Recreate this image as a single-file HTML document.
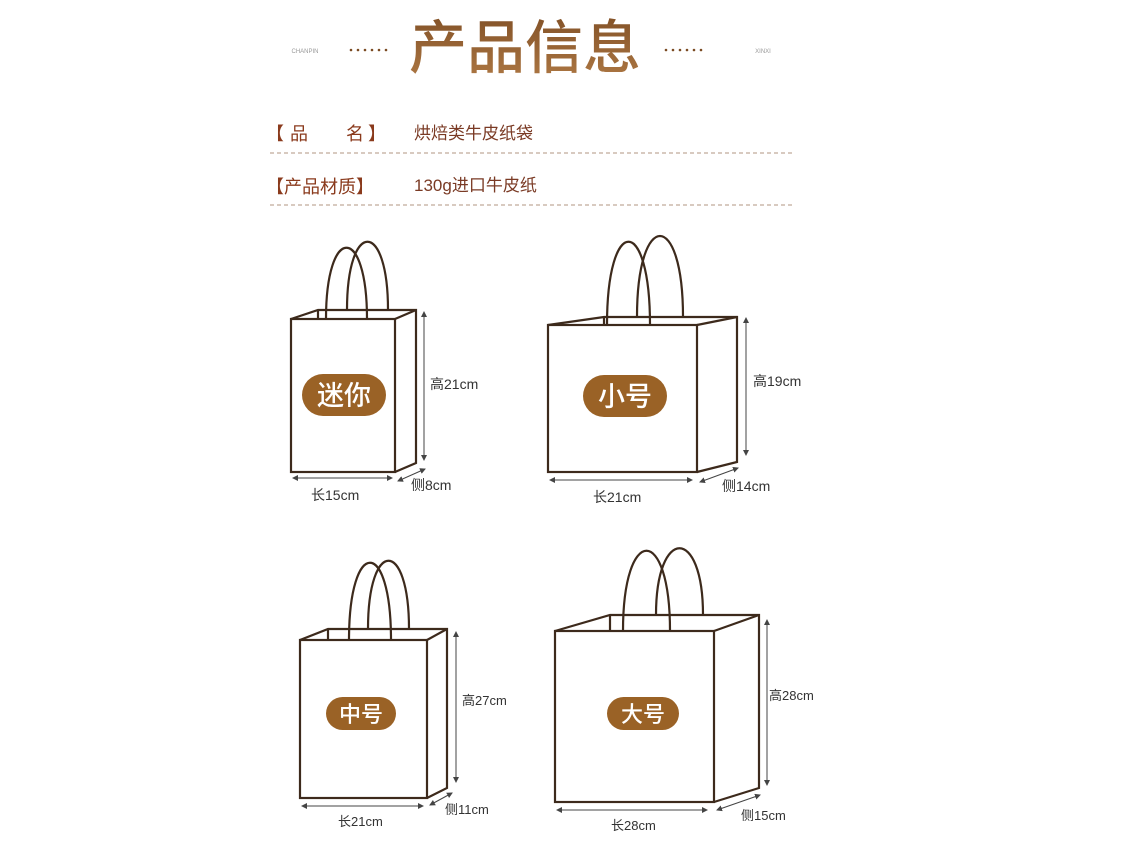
<!DOCTYPE html>
<html><head><meta charset="utf-8"><style>
html,body{margin:0;padding:0;background:#fff;}
body{width:1131px;height:855px;overflow:hidden;position:relative;font-family:"Liberation Sans","Noto Sans CJK SC",sans-serif;}
svg{position:absolute;left:0;top:0;}
</style></head><body>
<svg width="1131" height="855" viewBox="0 0 1131 855" xmlns="http://www.w3.org/2000/svg">
<defs>
<linearGradient id="tg" x1="0" y1="0" x2="0" y2="1"><stop offset="0" stop-color="#7a4a22"/><stop offset="1" stop-color="#b07a45"/></linearGradient>
<marker id="ar" markerWidth="6" markerHeight="6" refX="5" refY="3" orient="auto-start-reverse"><path d="M0,0 L6,3 L0,6 z" fill="#444"/></marker>
</defs>
<text x="525" y="68" font-size="58" font-weight="500" fill="url(#tg)" text-anchor="middle" font-family="Noto Sans CJK SC,sans-serif">产品信息</text>
<text x="305" y="53" font-size="6" fill="#999" text-anchor="middle">CHANPIN</text>
<text x="763" y="53" font-size="6" fill="#999" text-anchor="middle">XINXI</text>
<g fill="#7a4a22">
<circle cx="351" cy="50" r="1.3"/><circle cx="358" cy="50" r="1.3"/><circle cx="365" cy="50" r="1.3"/><circle cx="372" cy="50" r="1.3"/><circle cx="379" cy="50" r="1.3"/><circle cx="386" cy="50" r="1.3"/>
<circle cx="666" cy="50" r="1.3"/><circle cx="673" cy="50" r="1.3"/><circle cx="680" cy="50" r="1.3"/><circle cx="687" cy="50" r="1.3"/><circle cx="694" cy="50" r="1.3"/><circle cx="701" cy="50" r="1.3"/>
</g>
<g font-size="18" fill="#8a3a1c">
<text x="266" y="140">【</text><text x="290" y="140">品</text><text x="346" y="140">名</text><text x="368" y="140">】</text>
<text x="266" y="193">【产品材质】</text>
</g>
<g font-size="17" fill="#7a3a24">
<text x="414" y="139">烘焙类牛皮纸袋</text>
<text x="414" y="191">130g进口牛皮纸</text>
</g>
<line x1="270" y1="153" x2="792" y2="153" stroke="#b09580" stroke-dasharray="4,3"/>
<line x1="270" y1="205" x2="792" y2="205" stroke="#b09580" stroke-dasharray="4,3"/>

<g fill="none" stroke="#3d2a1c" stroke-width="2.2">
<path d="M326,319 C326,224 367,224 367,319"/>
<path d="M347,310 C347,219 388,219 388,310"/>
<path d="M291,319 L318,310 L416,310 L416,463 L395,472"/>
<line x1="318" y1="310" x2="318" y2="319"/>
<rect x="291" y="319" width="104" height="153" fill="#fff"/>
<line x1="395" y1="319" x2="416" y2="310"/>
<path d="M607,325 C607,214 650,214 650,325"/>
<path d="M637,317 C637,209 683,209 683,317"/>
<path d="M548,325 L604,317 L737,317 L737,462 L697,472"/>
<line x1="604" y1="317" x2="604" y2="325"/>
<rect x="548" y="325" width="149" height="147" fill="#fff"/>
<line x1="697" y1="325" x2="737" y2="317"/>
<path d="M349,640 C349,537 391,537 391,640"/>
<path d="M368,629 C368,538 409,538 409,629"/>
<path d="M300,640 L328,629 L447,629 L447,788 L427,798"/>
<line x1="328" y1="629" x2="328" y2="640"/>
<rect x="300" y="640" width="127" height="158" fill="#fff"/>
<line x1="427" y1="640" x2="447" y2="629"/>
<path d="M623,631 C623,524 670,524 670,631"/>
<path d="M656,615 C656,526 703,526 703,615"/>
<path d="M555,631 L610,615 L759,615 L759,788 L714,802"/>
<line x1="610" y1="615" x2="610" y2="631"/>
<rect x="555" y="631" width="159" height="171" fill="#fff"/>
<line x1="714" y1="631" x2="759" y2="615"/>
</g>

<g stroke="#444" stroke-width="1" marker-start="url(#ar)" marker-end="url(#ar)">
<line x1="424" y1="312" x2="424" y2="460"/>
<line x1="293" y1="478" x2="392" y2="478"/>
<line x1="398" y1="481" x2="425" y2="469"/>
<line x1="746" y1="318" x2="746" y2="455"/>
<line x1="550" y1="480" x2="692" y2="480"/>
<line x1="700" y1="482" x2="738" y2="468"/>
<line x1="456" y1="632" x2="456" y2="782"/>
<line x1="302" y1="806" x2="423" y2="806"/>
<line x1="430" y1="805" x2="452" y2="793"/>
<line x1="767" y1="620" x2="767" y2="785"/>
<line x1="557" y1="810" x2="707" y2="810"/>
<line x1="717" y1="810" x2="760" y2="795"/>
</g>

<g fill="#9a6226">
<rect x="302" y="374" width="84" height="42" rx="21"/>
<rect x="583" y="375" width="84" height="42" rx="21"/>
<rect x="326" y="697" width="70" height="33" rx="16.5"/>
<rect x="607" y="697" width="72" height="33" rx="16.5"/>
</g>
<g fill="#fff" font-weight="500" text-anchor="middle" font-family="Noto Sans CJK SC,sans-serif">
<text x="344" y="405" font-size="27">迷你</text>
<text x="625" y="406" font-size="27">小号</text>
<text x="361" y="722" font-size="22">中号</text>
<text x="643" y="722" font-size="22">大号</text>
</g>

<g font-size="14" fill="#333">
<text x="430" y="389">高21cm</text>
<text x="311" y="500">长15cm</text>
<text x="411" y="490">侧8cm</text>
<text x="753" y="386">高19cm</text>
<text x="593" y="502">长21cm</text>
<text x="722" y="491">侧14cm</text>
<text x="462" y="705" font-size="13">高27cm</text>
<text x="338" y="826" font-size="13">长21cm</text>
<text x="445" y="814" font-size="13">侧11cm</text>
<text x="769" y="700" font-size="13">高28cm</text>
<text x="611" y="830" font-size="13">长28cm</text>
<text x="741" y="820" font-size="13">侧15cm</text>
</g>
</svg>
</body></html>
